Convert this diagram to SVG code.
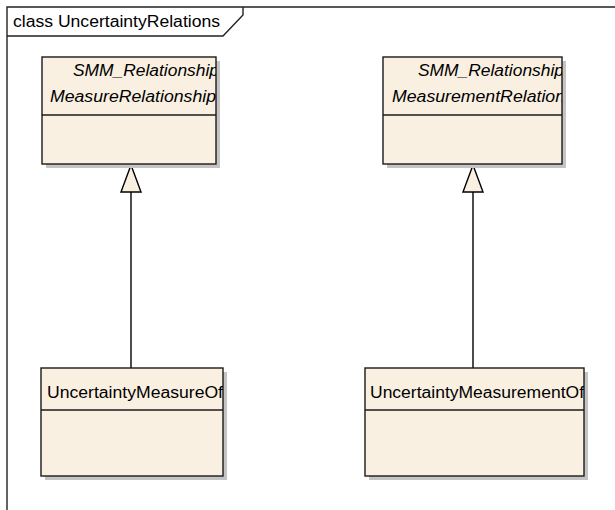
<svg xmlns="http://www.w3.org/2000/svg" width="615" height="510" viewBox="0 0 615 510">
<style>
.box{fill:#FAF0E2;stroke:#1a1a1a;stroke-width:1.4}
.shadow{fill:#C4C4C4}
.div{stroke:#1a1a1a;stroke-width:1.4}
.frame{fill:none;stroke:#222;stroke-width:1.4}
.t{font-family:"Liberation Sans","DejaVu Sans",sans-serif;font-size:16px;fill:#000}
.i{font-style:italic}
.conn{stroke:#000;stroke-width:1.4;fill:none}
.head{fill:#FAF0E2;stroke:#000;stroke-width:1.4}
</style>
<defs>
<clipPath id="c1"><rect x="42" y="57" width="174" height="107"/></clipPath>
<clipPath id="c2"><rect x="383" y="57" width="179" height="107"/></clipPath>
<clipPath id="c3"><rect x="41" y="368" width="182" height="108"/></clipPath>
<clipPath id="c4"><rect x="365" y="368" width="219" height="108"/></clipPath>
</defs>
<rect width="615" height="510" fill="#fff"/>
<g id="frame">
<path class="frame" d="M7,510 V7 H615"/>
<path class="frame" d="M7,36 H223 L243,15 V7"/>
<text class="t" x="13" y="27" textLength="207" lengthAdjust="spacingAndGlyphs">class UncertaintyRelations</text>
</g>
<g id="connectors">
<line class="conn" x1="131" y1="192" x2="131" y2="368"/>
<polygon class="head" points="131,165 121,192 141,192"/>
<line class="conn" x1="473" y1="192" x2="473" y2="368"/>
<polygon class="head" points="473,165 463,192 483,192"/>
</g>
<g id="MeasureRelationship">
<rect class="shadow" x="46" y="61" width="174" height="107"/>
<rect class="box" x="42" y="57" width="174" height="107"/>
<line class="div" x1="42" y1="115" x2="216" y2="115"/>
<g clip-path="url(#c1)">
<text class="t i" x="73" y="76" textLength="146" lengthAdjust="spacingAndGlyphs">SMM_Relationship</text>
<text class="t i" x="50" y="102" textLength="166" lengthAdjust="spacingAndGlyphs">MeasureRelationship</text>
</g>
</g>
<g id="MeasurementRelation">
<rect class="shadow" x="387" y="61" width="179" height="107"/>
<rect class="box" x="383" y="57" width="179" height="107"/>
<line class="div" x1="383" y1="115" x2="562" y2="115"/>
<g clip-path="url(#c2)">
<text class="t i" x="418" y="76" textLength="146" lengthAdjust="spacingAndGlyphs">SMM_Relationship</text>
<text class="t i" x="392" y="102" textLength="173" lengthAdjust="spacingAndGlyphs">MeasurementRelation</text>
</g>
</g>
<g id="UncertaintyMeasureOf">
<rect class="shadow" x="45" y="372" width="182" height="108"/>
<rect class="box" x="41" y="368" width="182" height="108"/>
<line class="div" x1="41" y1="410" x2="223" y2="410"/>
<g clip-path="url(#c3)">
<text class="t" x="47" y="398" textLength="176" lengthAdjust="spacingAndGlyphs">UncertaintyMeasureOf</text>
</g>
</g>
<g id="UncertaintyMeasurementOf">
<rect class="shadow" x="369" y="372" width="219" height="108"/>
<rect class="box" x="365" y="368" width="219" height="108"/>
<line class="div" x1="365" y1="410" x2="584" y2="410"/>
<g clip-path="url(#c4)">
<text class="t" x="370" y="398" textLength="214" lengthAdjust="spacingAndGlyphs">UncertaintyMeasurementOf</text>
</g>
</g>
</svg>
